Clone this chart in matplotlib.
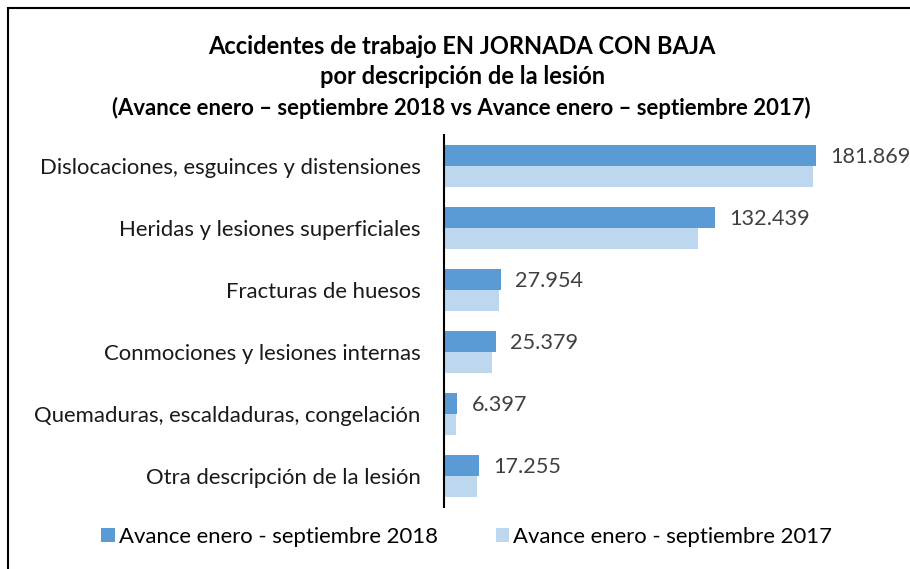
import matplotlib.pyplot as plt
import numpy as np
from matplotlib.patches import Rectangle

categorias = [
    'Dislocaciones, esguinces y distensiones',
    'Heridas y lesiones superficiales',
    'Fracturas de huesos',
    'Conmociones y lesiones internas',
    'Quemaduras, escaldaduras, congelación',
    'Otra descripción de la lesión',
]
valores_2018 = [181869, 132439, 27954, 25379, 6397, 17255]
valores_2017 = [180400, 124300, 26700, 23600, 5900, 16300]
etiquetas_2018 = ['181.869', '132.439', '27.954', '25.379', '6.397', '17.255']
serie_2018 = 'Avance enero - septiembre 2018'
serie_2017 = 'Avance enero - septiembre 2017'

plt.rcParams['font.family'] = ['Lato', 'DejaVu Sans']

fig = plt.figure(figsize=(9.1, 5.69), dpi=100)
ax = fig.add_axes([444 / 910, 1 - 507 / 569, 436 / 910, 372 / 569])

y = np.arange(len(categorias))
h = 0.335
ax.barh(y - h / 2, valores_2018, height=h, color='#5B9BD5', label=serie_2018)
ax.barh(y + h / 2, valores_2017, height=h, color='#BDD7EE', label=serie_2017)

for yi, v, t in zip(y, valores_2018, etiquetas_2018):
    ax.text(v + 7000, yi - h / 2 + 0.02, t, va='center', ha='left',
            fontsize=15.6, color='#404040')

ax.set_xlim(0, 436 / 372 * 181869)
ax.set_ylim(len(categorias) - 0.5, -0.5)
ax.set_yticks(y)
ax.set_yticklabels(categorias, fontsize=15.9, color='#1a1a1a')
ax.tick_params(axis='y', length=0, pad=17)
ax.set_xticks([])
for s in ['top', 'right', 'bottom']:
    ax.spines[s].set_visible(False)
ax.spines['left'].set_linewidth(1.5)

# titulo
fig.text(0.508, 1 - 47 / 569, 'Accidentes de trabajo EN JORNADA CON BAJA',
         ha='center', va='center', fontsize=17, fontweight='bold')
fig.text(0.508, 1 - 77 / 569, 'por descripción de la lesión',
         ha='center', va='center', fontsize=17, fontweight='bold')
fig.text(0.507, 1 - 108 / 569,
         '(Avance enero – septiembre 2018 vs Avance enero – septiembre 2017)',
         ha='center', va='center', fontsize=15.9, fontweight='bold')

fig.legend(loc='center', bbox_to_anchor=(0.513, 1 - 537 / 569), ncol=2,
           frameon=False, fontsize=15.9, handlelength=0.6, handleheight=0.6,
           handletextpad=0.2, columnspacing=2.6)

# marco
fig.patches.append(Rectangle((8 / 910, -0.1), 1.2, 1.1 - 8 / 569,
                             transform=fig.transFigure, fill=False,
                             edgecolor='black', linewidth=1.5))

fig.savefig('out.png', dpi=100)
